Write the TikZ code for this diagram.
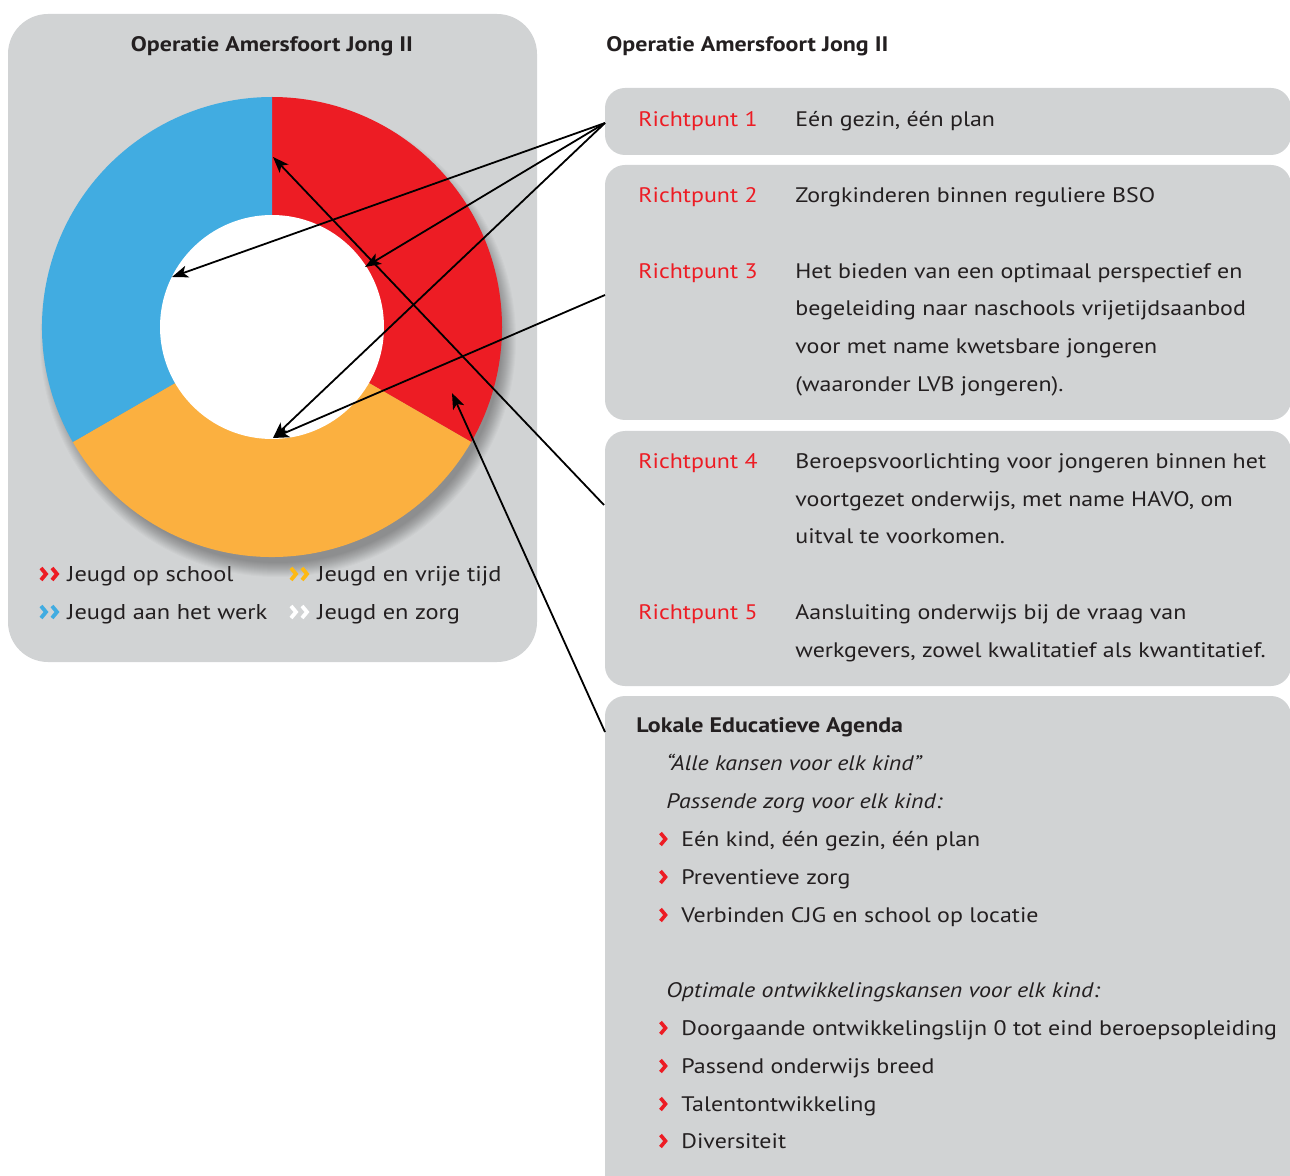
\documentclass[tikz,border=0pt]{standalone}
\usepackage{fontspec}
\setmainfont{PT Sans}[FakeStretch=1.14]
\usetikzlibrary{arrows.meta}
\definecolor{panelgrey}{HTML}{D1D3D4}
\definecolor{txt}{HTML}{231F20}
\definecolor{rpred}{HTML}{ED1C24}
\definecolor{pieblue}{HTML}{41ACE1}
\definecolor{pieorange}{HTML}{FBB040}
\definecolor{piered}{HTML}{ED1C24}
\definecolor{chevyellow}{HTML}{FDB913}
\begin{document}
\begin{tikzpicture}[x=0.5pt,y=-0.5pt,
  panel/.style={fill=panelgrey, draw=none, rounded corners=10pt, inner sep=0pt},
  lbl/.style={anchor=base west, inner sep=0pt, text=txt, font=\fontsize{10.5}{12}\selectfont},
  rp/.style={lbl, text=rpred},
  ttl/.style={lbl, font=\fontsize{10.5}{12}\selectfont\bfseries},
  itl/.style={lbl, font=\fontsize{10.5}{12}\selectfont\itshape},
  leg/.style={lbl, font=\fontsize{10.7}{12}\selectfont},
  conn/.style={draw=black, line width=0.9pt, -{Stealth[length=8pt,width=6pt,inset=2pt]}},
  chev/.pic={\draw[line width=1.8pt, miter limit=10] (-2.5,-6) -- (2.5,0) -- (-2.5,6);},
  dchev/.pic={\draw[line width=1.9pt, miter limit=10] (-8,-6) -- (-3,0) -- (-8,6) (3,-6) -- (8,0) -- (3,6);}
]
\useasboundingbox (0,0) rectangle (1290,1176);

% panels
\node[panel, rounded corners=20pt, minimum width=264.5pt, minimum height=324pt] (lp) at (272.5,338) {};
\node[panel, minimum width=343pt, minimum height=33.5pt] (b1) at (948,121.5) {};
\node[panel, minimum width=343pt, minimum height=127.5pt] (b2) at (948,292.5) {};
\node[panel, minimum width=343pt, minimum height=127.5pt] (b3) at (948,558.5) {};
\node[panel, minimum width=343pt, minimum height=250pt] (b4) at (948,946) {};

% donut
\coordinate (c) at (272,327);
\foreach \k in {0,...,14} \fill[black, opacity=0.022] (278,339) circle[radius={238-\k}];
\fill[piered] (c) -- ++(-90:230) arc[start angle=-90, end angle=30, radius=230] -- cycle;
\fill[pieorange] (c) -- ++(30:230) arc[start angle=30, end angle=150, radius=230] -- cycle;
\fill[pieblue] (c) -- ++(150:230) arc[start angle=150, end angle=270, radius=230] -- cycle;
\fill[white] (c) circle[radius=112];

% titles
\node[ttl, anchor=base] (lt) at (272,52) {Operatie Amersfoort Jong II};
\node[ttl] (rt) at (606,52) {Operatie Amersfoort Jong II};

% legend
\pic[color=rpred] at (49,574) {dchev};
\node[leg] (l1) at (67,581) {Jeugd op school};
\pic[color=pieblue] at (49,612) {dchev};
\node[leg] (l2) at (67,619) {Jeugd aan het werk};
\pic[color=chevyellow] at (299,574) {dchev};
\node[leg] (l3) at (317,581) {Jeugd en vrije tijd};
\pic[color=white] at (299,612) {dchev};
\node[leg] (l4) at (317,619) {Jeugd en zorg};

% richtpunten
\node[rp] (r1) at (638,127) {Richtpunt 1};
\node[lbl] (d1) at (795,127) {Eén gezin, één plan};
\node[rp] (r2) at (638,203) {Richtpunt 2};
\node[lbl] (d2) at (795,203) {Zorgkinderen binnen reguliere BSO};
\node[rp] (r3) at (638,279) {Richtpunt 3};
\node[lbl] (d3a) at (795,279) {Het bieden van een optimaal perspectief en};
\node[lbl] (d3b) at (795,316) {begeleiding naar naschools vrijetijdsaanbod};
\node[lbl] (d3c) at (795,354) {voor met name kwetsbare jongeren};
\node[lbl] (d3d) at (795,392) {(waaronder LVB jongeren).};
\node[rp] (r4) at (638,468) {Richtpunt 4};
\node[lbl] (d4a) at (795,468) {Beroepsvoorlichting voor jongeren binnen het};
\node[lbl] (d4b) at (795,506) {voortgezet onderwijs, met name HAVO, om};
\node[lbl] (d4c) at (795,543) {uitval te voorkomen.};
\node[rp] (r5) at (638,619) {Richtpunt 5};
\node[lbl] (d5a) at (795,619) {Aansluiting onderwijs bij de vraag van};
\node[lbl] (d5b) at (795,657) {werkgevers, zowel kwalitatief als kwantitatief.};

% lokale educatieve agenda
\node[ttl] (la) at (636,732) {Lokale Educatieve Agenda};
\node[itl] (li1) at (666,770) {“Alle kansen voor elk kind”};
\node[itl] (li2) at (666,808) {Passende zorg voor elk kind:};
\pic[color=rpred] at (663,839) {chev};
\node[lbl] (lb1) at (681,846) {Eén kind, één gezin, één plan};
\pic[color=rpred] at (663,877) {chev};
\node[lbl] (lb2) at (681,884) {Preventieve zorg};
\pic[color=rpred] at (663,915) {chev};
\node[lbl] (lb3) at (681,922) {Verbinden CJG en school op locatie};
\node[itl] (li3) at (666,997) {Optimale ontwikkelingskansen voor elk kind:};
\pic[color=rpred] at (663,1028) {chev};
\node[lbl] (lb4) at (681,1035) {Doorgaande ontwikkelingslijn 0 tot eind beroepsopleiding};
\pic[color=rpred] at (663,1066) {chev};
\node[lbl] (lb5) at (681,1073) {Passend onderwijs breed};
\pic[color=rpred] at (663,1104) {chev};
\node[lbl] (lb6) at (681,1111) {Talentontwikkeling};
\pic[color=rpred] at (663,1141) {chev};
\node[lbl] (lb7) at (681,1148) {Diversiteit};

% connector end points
\coordinate (s1) at (605,123);
\coordinate (s2) at (605,295);
\coordinate (s3) at (604,505);
\coordinate (s4) at (605,732);
\coordinate (t1) at (172,277);
\coordinate (t2) at (365,267);
\coordinate (t3) at (273,438);
\coordinate (t4) at (273,157);
\coordinate (t5) at (452,393);

\draw[conn] (s1) -- (t1);
\draw[conn] (s1) -- (t2);
\draw[conn] (s1) -- (t3);
\draw[conn] (s2) -- (t3);
\draw[conn] (s3) -- (t4);
\draw[conn] (s4) -- (t5);
\end{tikzpicture}
\end{document}
